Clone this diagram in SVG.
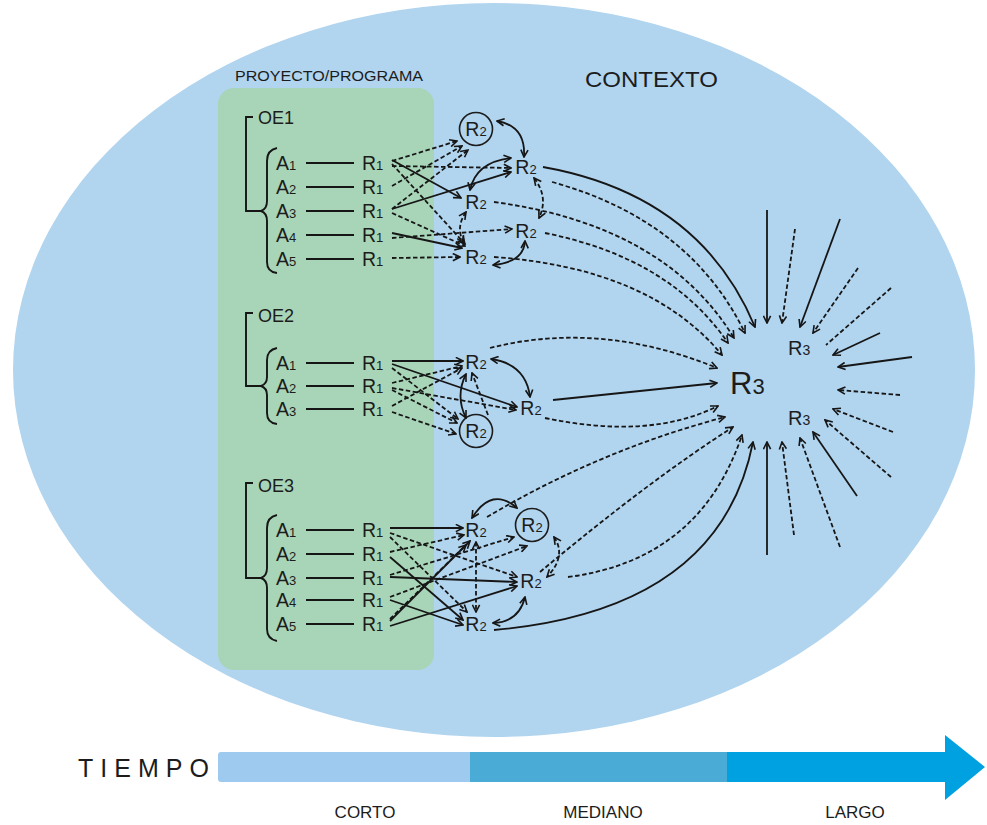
<svg xmlns="http://www.w3.org/2000/svg" width="987" height="825" viewBox="0 0 987 825">
<defs>
  <style>
    text { font-family: "Liberation Sans", Arial, sans-serif; fill: #1c1c1c; }
    .lbl { font-size: 19.5px; }
    .sub { font-size: 13px; }
    .oe { font-size: 18px; }
    .ln { stroke: #161616; stroke-width: 1.8; fill: none; }
    .br { stroke: #161616; stroke-width: 1.9; fill: none; }
    .d { stroke-dasharray: 4.5 2.5; }
    .a { marker-end: url(#ah); }
    .b { marker-start: url(#ah); marker-end: url(#ah); }
    .ring { stroke: #1c1c1c; stroke-width: 1.6; fill: none; }
  </style>
  <marker id="ah" viewBox="0 0 10 10" refX="9" refY="5" markerWidth="9" markerHeight="9" markerUnits="userSpaceOnUse" orient="auto-start-reverse">
    <path d="M1,1 L9,5 L1,9" fill="none" stroke="#161616" stroke-width="1.8"/>
  </marker>
</defs>

<!-- context field and project box -->
<ellipse id="contexto" cx="494" cy="370" rx="481" ry="367" fill="#b1d4ef"/>
<rect id="proyecto" x="218" y="88" width="216" height="582" rx="16" fill="#a8d5b7"/>
<text x="235" y="81" font-size="14" textLength="188" lengthAdjust="spacingAndGlyphs">PROYECTO/PROGRAMA</text>
<text x="585" y="87" font-size="22" textLength="133" lengthAdjust="spacingAndGlyphs">CONTEXTO</text>

<!-- objective OE1 -->
<g id="oe1">
  <text class="oe" x="258" y="124">OE1</text>
  <path class="br" d="M253,117 L246,117 L246,211 L261,211"/>
  <path class="br" d="M277,148 Q267,150 267,161 L267,201 Q267,209 261,211 Q267,213 267,221 L267,262 Q267,272 277,273"/>
  <g id="oe1-r1"><text class="lbl" x="276" y="170">A<tspan class="sub">1</tspan></text><path class="ln" d="M306,163 L354,163"/><text class="lbl" x="362" y="170">R<tspan class="sub">1</tspan></text></g>
  <g id="oe1-r2"><text class="lbl" x="276" y="194">A<tspan class="sub">2</tspan></text><path class="ln" d="M306,187 L354,187"/><text class="lbl" x="362" y="194">R<tspan class="sub">1</tspan></text></g>
  <g id="oe1-r3"><text class="lbl" x="276" y="218">A<tspan class="sub">3</tspan></text><path class="ln" d="M306,211 L354,211"/><text class="lbl" x="362" y="218">R<tspan class="sub">1</tspan></text></g>
  <g id="oe1-r4"><text class="lbl" x="276" y="242">A<tspan class="sub">4</tspan></text><path class="ln" d="M306,235 L354,235"/><text class="lbl" x="362" y="242">R<tspan class="sub">1</tspan></text></g>
  <g id="oe1-r5"><text class="lbl" x="276" y="266">A<tspan class="sub">5</tspan></text><path class="ln" d="M306,259 L354,259"/><text class="lbl" x="362" y="266">R<tspan class="sub">1</tspan></text></g>
</g>

<!-- objective OE2 -->
<g id="oe2">
  <text class="oe" x="258" y="322">OE2</text>
  <path class="br" d="M253,313 L246,313 L246,386 L261,386"/>
  <path class="br" d="M277,348 Q267,350 267,360 L267,377 Q267,384 261,386 Q267,388 267,395 L267,413 Q267,423 277,424"/>
  <g id="oe2-r1"><text class="lbl" x="276" y="370">A<tspan class="sub">1</tspan></text><path class="ln" d="M306,363 L354,363"/><text class="lbl" x="362" y="370">R<tspan class="sub">1</tspan></text></g>
  <g id="oe2-r2"><text class="lbl" x="276" y="393">A<tspan class="sub">2</tspan></text><path class="ln" d="M306,386 L354,386"/><text class="lbl" x="362" y="393">R<tspan class="sub">1</tspan></text></g>
  <g id="oe2-r3"><text class="lbl" x="276" y="416">A<tspan class="sub">3</tspan></text><path class="ln" d="M306,409 L354,409"/><text class="lbl" x="362" y="416">R<tspan class="sub">1</tspan></text></g>
</g>

<!-- objective OE3 -->
<g id="oe3">
  <text class="oe" x="258" y="492">OE3</text>
  <path class="br" d="M253,483 L246,483 L246,578 L261,578"/>
  <path class="br" d="M277,515 Q267,517 267,528 L267,568 Q267,576 261,578 Q267,580 267,588 L267,629 Q267,639 277,641"/>
  <g id="oe3-r1"><text class="lbl" x="276" y="537">A<tspan class="sub">1</tspan></text><path class="ln" d="M306,530 L354,530"/><text class="lbl" x="362" y="537">R<tspan class="sub">1</tspan></text></g>
  <g id="oe3-r2"><text class="lbl" x="276" y="561">A<tspan class="sub">2</tspan></text><path class="ln" d="M306,554 L354,554"/><text class="lbl" x="362" y="561">R<tspan class="sub">1</tspan></text></g>
  <g id="oe3-r3"><text class="lbl" x="276" y="585">A<tspan class="sub">3</tspan></text><path class="ln" d="M306,578 L354,578"/><text class="lbl" x="362" y="585">R<tspan class="sub">1</tspan></text></g>
  <g id="oe3-r4"><text class="lbl" x="276" y="607">A<tspan class="sub">4</tspan></text><path class="ln" d="M306,600 L354,600"/><text class="lbl" x="362" y="607">R<tspan class="sub">1</tspan></text></g>
  <g id="oe3-r5"><text class="lbl" x="276" y="631">A<tspan class="sub">5</tspan></text><path class="ln" d="M306,624 L354,624"/><text class="lbl" x="362" y="631">R<tspan class="sub">1</tspan></text></g>
</g>

<!-- intermediate results R2 -->
<g id="r2-1c"><circle class="ring" cx="476" cy="129" r="16.5"/><text class="lbl" x="476" y="136" text-anchor="middle">R<tspan class="sub">2</tspan></text></g>
<g id="r2-1b"><text class="lbl" x="526" y="174" text-anchor="middle">R<tspan class="sub">2</tspan></text></g>
<g id="r2-1d"><text class="lbl" x="476" y="209" text-anchor="middle">R<tspan class="sub">2</tspan></text></g>
<g id="r2-1e"><text class="lbl" x="526" y="238" text-anchor="middle">R<tspan class="sub">2</tspan></text></g>
<g id="r2-1f"><text class="lbl" x="476" y="264" text-anchor="middle">R<tspan class="sub">2</tspan></text></g>

<g id="r2-2a"><text class="lbl" x="476" y="369" text-anchor="middle">R<tspan class="sub">2</tspan></text></g>
<g id="r2-2b"><text class="lbl" x="531" y="415" text-anchor="middle">R<tspan class="sub">2</tspan></text></g>
<g id="r2-2c"><circle class="ring" cx="476" cy="431" r="16.5"/><text class="lbl" x="476" y="438" text-anchor="middle">R<tspan class="sub">2</tspan></text></g>

<g id="r2-3a"><text class="lbl" x="476" y="537" text-anchor="middle">R<tspan class="sub">2</tspan></text></g>
<g id="r2-3c"><circle class="ring" cx="532" cy="525" r="16.5"/><text class="lbl" x="532" y="532" text-anchor="middle">R<tspan class="sub">2</tspan></text></g>
<g id="r2-3b"><text class="lbl" x="531" y="588" text-anchor="middle">R<tspan class="sub">2</tspan></text></g>
<g id="r2-3d"><text class="lbl" x="476" y="631" text-anchor="middle">R<tspan class="sub">2</tspan></text></g>

<!-- long-term results R3 -->
<g id="r3-main"><text x="730" y="394" font-size="31">R<tspan font-size="22">3</tspan></text></g>
<g id="r3-up"><text x="788" y="355" font-size="20">R<tspan font-size="14">3</tspan></text></g>
<g id="r3-down"><text x="788" y="425" font-size="20">R<tspan font-size="14">3</tspan></text></g>

<g id="connectors">
  <!-- OE1: R1 to R2 -->
  <path class="ln d a" d="M392,161 L457,141"/>
  <path class="ln d a" d="M392,166 L511,168"/>
  <path class="ln a" d="M392,160 L461,198"/>
  <path class="ln d a" d="M392,164 L465,244"/>
  <path class="ln d a" d="M392,186 L462,146"/>
  <path class="ln d a" d="M392,209 L468,150"/>
  <path class="ln a" d="M392,209 L511,172"/>
  <path class="ln d a" d="M392,213 L465,246"/>
  <path class="ln a" d="M392,233 L462,248"/>
  <path class="ln d a" d="M392,238 L512,229"/>
  <path class="ln d a" d="M392,258 L460,257"/>
  <!-- OE1: between R2 -->
  <path class="ln b" d="M497,121 Q526,126 524,157"/>
  <path class="ln b" d="M470,190 Q476,162 511,158"/>
  <path class="ln d b" d="M466,212 Q455,228 464,243"/>
  <path class="ln d b" d="M534,178 Q549,197 539,218"/>
  <path class="ln b" d="M493,265 Q524,262 525,241"/>
  <!-- OE1: R2 to R3 -->
  <path class="ln a" d="M543,167 Q700,195 755,327"/>
  <path class="ln d a" d="M552,182 Q690,220 745,333"/>
  <path class="ln d a" d="M494,202 Q665,225 734,338"/>
  <path class="ln d a" d="M545,233 Q670,258 728,343"/>
  <path class="ln d a" d="M494,257 Q650,268 722,355"/>

  <!-- OE2: R1 to R2 -->
  <path class="ln a" d="M392,361 L463,361"/>
  <path class="ln a" d="M392,364 L517,407"/>
  <path class="ln d a" d="M392,368 L458,419"/>
  <path class="ln d a" d="M392,383 L462,366"/>
  <path class="ln d a" d="M392,388 L516,410"/>
  <path class="ln d a" d="M392,390 L457,423"/>
  <path class="ln d a" d="M392,406 L462,368"/>
  <path class="ln d a" d="M392,412 L456,434"/>
  <!-- OE2: between R2 -->
  <path class="ln b" d="M466,374 Q455,396 466,418"/>
  <path class="ln d a" d="M488,415 L472,373"/>
  <path class="ln b" d="M491,359 Q526,364 530,397"/>
  <!-- OE2: R2 to R3 -->
  <path class="ln d a" d="M490,348 Q600,320 717,368"/>
  <path class="ln a" d="M553,400 L717,383"/>
  <path class="ln d a" d="M545,418 Q650,440 718,406"/>

  <!-- OE3: R1 to R2 -->
  <path class="ln a" d="M390,528 L463,528"/>
  <path class="ln d a" d="M390,533 L517,577"/>
  <path class="ln d a" d="M390,537 L467,612"/>
  <path class="ln d a" d="M390,552 L464,535"/>
  <path class="ln a" d="M390,557 L463,620"/>
  <path class="ln d a" d="M390,575 L514,537"/>
  <path class="ln a" d="M390,577 L517,582"/>
  <path class="ln d a" d="M390,597 L527,546"/>
  <path class="ln a" d="M390,600 L463,625"/>
  <path class="ln a" d="M390,621 L470,541"/>
  <path class="ln d a" d="M390,619 L466,545"/>
  <path class="ln a" d="M390,626 L517,586"/>
  <!-- OE3: between R2 -->
  <path class="ln b" d="M472,518 Q492,486 517,508"/>
  <path class="ln d b" d="M476,542 L476,612"/>
  <path class="ln d b" d="M554,537 Q567,556 547,577"/>
  <path class="ln b" d="M525,597 Q519,622 493,623"/>
  <!-- OE3: R2 to R3 -->
  <path class="ln d a" d="M487,517 Q600,450 725,417"/>
  <path class="ln d a" d="M540,572 Q650,480 733,427"/>
  <path class="ln d a" d="M568,577 Q700,560 742,435"/>
  <path class="ln a" d="M494,630 Q720,610 753,442"/>

  <!-- external influences on R3 -->
  <path class="ln a" d="M767,210 L767,323"/>
  <path class="ln d a" d="M795,229 L782,323"/>
  <path class="ln a" d="M840,219 L800,327"/>
  <path class="ln d a" d="M858,268 L813,333"/>
  <path class="ln d" d="M891,288 L826,345"/>
  <path class="ln a" d="M880,333 L833,355"/>
  <path class="ln a" d="M912,357 L838,367"/>
  <path class="ln d a" d="M900,395 L838,390"/>
  <path class="ln d a" d="M893,432 L833,409"/>
  <path class="ln d a" d="M891,477 L825,420"/>
  <path class="ln a" d="M857,496 L813,432"/>
  <path class="ln d a" d="M840,547 L800,438"/>
  <path class="ln d a" d="M794,535 L782,442"/>
  <path class="ln a" d="M767,555 L767,442"/>
</g>

<!-- time axis -->
<g id="tiempo">
  <text x="78" y="777" font-size="25" letter-spacing="7">TIEMPO</text>
  <path d="M221,752 L470,752 L470,782 L221,782 Q218,782 218,779 L218,755 Q218,752 221,752 Z" fill="#9dcaee"/>
  <rect x="470" y="752" width="257" height="30" fill="#4aabd6"/>
  <path d="M727,752 L945,752 L945,735 L985,767 L945,800 L945,782 L727,782 Z" fill="#00a1e0"/>
  <text x="365" y="818" font-size="17" text-anchor="middle">CORTO</text>
  <text x="603" y="818" font-size="17" text-anchor="middle">MEDIANO</text>
  <text x="855" y="818" font-size="17" text-anchor="middle">LARGO</text>
</g>
</svg>
